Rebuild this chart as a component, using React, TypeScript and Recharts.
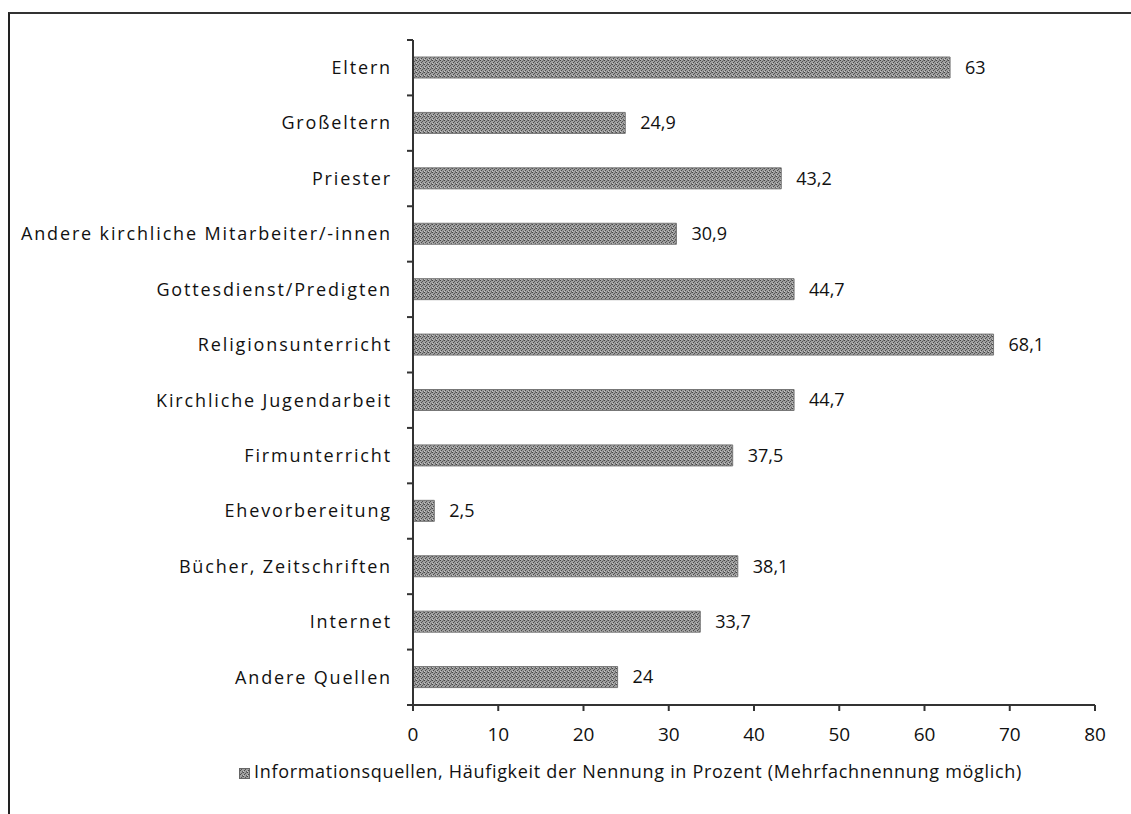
import React from "react";
import {
  Bar,
  BarChart,
  XAxis,
  YAxis,
  LabelList,
  Legend,
} from "recharts";

const categories = [
  "Eltern",
  "Großeltern",
  "Priester",
  "Andere kirchliche Mitarbeiter/-innen",
  "Gottesdienst/Predigten",
  "Religionsunterricht",
  "Kirchliche Jugendarbeit",
  "Firmunterricht",
  "Ehevorbereitung",
  "Bücher, Zeitschriften",
  "Internet",
  "Andere Quellen",
];

const values = [63, 24.9, 43.2, 30.9, 44.7, 68.1, 44.7, 37.5, 2.5, 38.1, 33.7, 24];

const xTicks = [0, 10, 20, 30, 40, 50, 60, 70, 80];

const seriesName =
  "Informationsquellen, Häufigkeit der Nennung in Prozent (Mehrfachnennung möglich)";

const data = categories.map((name, i) => ({ name, value: values[i] }));

const font = "'Open Sans', sans-serif";

// category label plus the small tick marks sitting on the band borders (Excel style)
const CategoryTick = (props: any) => {
  const { x, y, payload, index, visibleTicksCount } = props;
  const half = payload && payload.offset ? payload.offset : 27.7;
  const axisX = x + 21;
  return (
    <g>
      <line x1={axisX - 6} x2={axisX} y1={y - half} y2={y - half} stroke="#333" strokeWidth={2} />
      {index === visibleTicksCount - 1 && (
        <line x1={axisX - 6} x2={axisX} y1={y + half} y2={y + half} stroke="#333" strokeWidth={2} />
      )}
      <text
        x={x}
        y={y}
        dy="0.35em"
        textAnchor="end"
        fill="#111"
        fontFamily={font}
        fontSize={18}
        letterSpacing={1.85}
      >
        {payload.value}
      </text>
    </g>
  );
};

const LegendContent = () => (
  <div
    style={{
      textAlign: "center",
      fontFamily: font,
      fontSize: 18,
      letterSpacing: 0.7,
      color: "#111",
      paddingTop: 14,
      paddingLeft: 130,
    }}
  >
    <svg width={11} height={11} style={{ marginRight: 4, verticalAlign: "-1px" }}>
      <rect x={0.5} y={0.5} width={10} height={10} fill="url(#dither)" stroke="#666" />
    </svg>
    {seriesName}
  </div>
);

export default function App() {
  return (
    <div style={{ position: "absolute", left: 0, top: 0, width: 1131, height: 814, background: "#fff" }}>
      <div
        style={{
          position: "absolute",
          left: 8,
          top: 12,
          width: 1131,
          height: 814,
          borderTop: "2px solid #333",
          borderLeft: "2px solid #222",
        }}
      />
      <BarChart
        width={1131}
        height={814}
        data={data}
        layout="vertical"
        margin={{ top: 40, right: 36, bottom: 29, left: 0 }}
        style={{ position: "absolute", left: 0, top: 0 }}
      >
        <defs>
          <pattern id="dither" width={4} height={4} patternUnits="userSpaceOnUse">
            <rect width={4} height={4} fill="#a0a0a0" />
            <rect x={0} y={0} width={1} height={1} fill="#444" />
            <rect x={2} y={1} width={1} height={1} fill="#555" />
            <rect x={1} y={2} width={1} height={1} fill="#4a4a4a" />
            <rect x={3} y={3} width={1} height={1} fill="#606060" />
            <rect x={3} y={0} width={1} height={1} fill="#707070" />
            <rect x={0} y={3} width={1} height={1} fill="#c8c8c8" />
          </pattern>
        </defs>
        <XAxis
          type="number"
          domain={[0, 80]}
          ticks={xTicks}
          height={40}
          tickSize={6}
          tickMargin={17}
          axisLine={{ stroke: "#333", strokeWidth: 2 }}
          tickLine={{ stroke: "#333", strokeWidth: 2 }}
          tick={{ fill: "#111", fontFamily: font, fontSize: 19 }}
        />
        <YAxis
          type="category"
          dataKey="name"
          width={413}
          axisLine={{ stroke: "#333", strokeWidth: 2 }}
          tickLine={false}
          tickSize={0}
          tickMargin={21}
          interval={0}
          tick={<CategoryTick />}
        />
        <Legend
          verticalAlign="bottom"
          height={40}
          content={<LegendContent />}
          wrapperStyle={{ left: 0, width: 1131 }}
        />
        <Bar
          dataKey="value"
          name={seriesName}
          fill="url(#dither)"
          stroke="#777"
          strokeWidth={1}
          barSize={21}
          isAnimationActive={false}
        >
          <LabelList
            dataKey="value"
            position="right"
            offset={15}
            formatter={(v: any) => String(v).replace(".", ",")}
            style={{ fill: "#111", fontFamily: font, fontSize: 18 }}
          />
        </Bar>
      </BarChart>
    </div>
  );
}
